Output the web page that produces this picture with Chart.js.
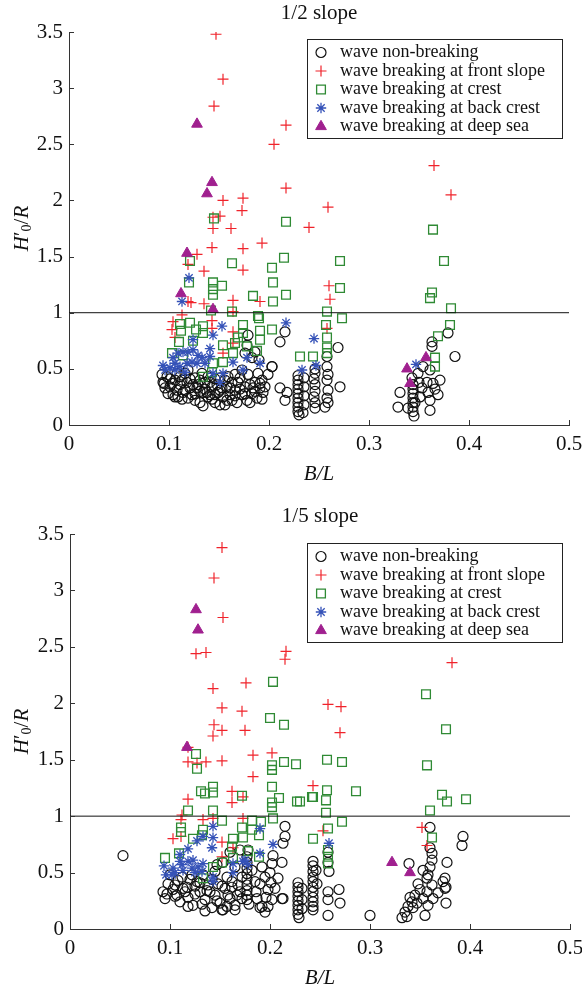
<!DOCTYPE html>
<html>
<head>
<meta charset="utf-8">
<script src="https://cdn.jsdelivr.net/npm/chart.js@4.4.1/dist/chart.umd.min.js"></script>
<style>
  html, body { margin: 0; padding: 0; background: #fff; }
  #wrap { position: relative; width: 582px; height: 994px; }
  canvas { position: absolute; left: 0; }
</style>
</head>
<body>
<div id="wrap">
  <canvas id="c1" width="582" height="497" style="top:0"></canvas>
  <canvas id="c2" width="582" height="497" style="top:497px"></canvas>
</div>
<script>
/* Two panels: wave breaking types vs B/L for 1/2 and 1/5 slopes.
 * Values, [B/L, H'0/R] pairs. */

const X_TICKS = [0, 0.1, 0.2, 0.3, 0.4, 0.5];
const Y_TICKS = [0, 0.5, 1, 1.5, 2, 2.5, 3, 3.5];
const LEGEND_LABELS = [
  "wave non-breaking",
  "wave breaking at front slope",
  "wave breaking at crest",
  "wave breaking at back crest",
  "wave breaking at deep sea",
];
const PANEL_TITLES = ["1/2 slope", "1/5 slope"];
const REF_LINE = [[0, 1], [0.5, 1]];

/* ----------------------------- 1/2 slope ---------------------------------- */
const NB1 = [
  [0.093,0.45],[0.094,0.38],[0.096,0.33],[0.104,0.27],[0.101,0.34],[0.106,0.40],[0.111,0.36],[0.114,0.29],
  [0.118,0.38],[0.121,0.33],[0.123,0.27],[0.126,0.42],[0.129,0.36],[0.131,0.20],[0.134,0.29],[0.136,0.38],
  [0.139,0.25],[0.143,0.34],[0.146,0.20],[0.149,0.29],[0.151,0.18],[0.154,0.25],[0.158,0.34],[0.159,0.43],
  [0.163,0.22],[0.166,0.31],[0.169,0.38],[0.173,0.27],[0.176,0.34],[0.179,0.45],[0.183,0.28],[0.186,0.38],
  [0.189,0.46],[0.191,0.33],[0.193,0.40],[0.179,0.80],[0.203,0.52],[0.108,0.46],[0.116,0.46],[0.133,0.46],
  [0.139,0.43],[0.119,0.49],[0.151,0.42],[0.166,0.45],[0.173,0.49],[0.176,0.64],[0.178,0.71],[0.186,0.65],
  [0.183,0.60],[0.109,0.25],[0.126,0.28],[0.146,0.27],[0.156,0.18],[0.168,0.20],[0.178,0.22],[0.188,0.24],
  [0.138,0.29],[0.119,0.24],[0.099,0.28],[0.194,0.29],[0.190,0.58],[0.095,0.37],[0.106,0.25],[0.134,0.17],
  [0.181,0.20],[0.193,0.23],[0.191,0.37],[0.113,0.40],[0.128,0.33],[0.141,0.38],[0.153,0.33],[0.161,0.27],
  [0.171,0.32],[0.184,0.33],[0.116,0.31],[0.131,0.40],[0.148,0.36],[0.163,0.38],[0.158,0.22],[0.143,0.23],
  [0.124,0.36],[0.101,0.41],[0.111,0.43],
  [0.098,0.43],[0.103,0.37],[0.108,0.31],[0.113,0.23],[0.121,0.41],[0.126,0.22],[0.131,0.30],[0.136,0.32],
  [0.141,0.27],[0.146,0.41],[0.151,0.31],[0.156,0.40],[0.161,0.33],[0.166,0.26],[0.171,0.42],[0.176,0.28],
  [0.181,0.36],[0.186,0.30],[0.196,0.34],[0.199,0.45],
  [0.216,0.83],[0.211,0.74],[0.203,0.52],[0.211,0.33],[0.218,0.29],[0.216,0.22],
  [0.229,0.44],[0.229,0.40],[0.229,0.36],[0.229,0.32],[0.229,0.28],[0.229,0.24],[0.229,0.20],[0.229,0.16],
  [0.229,0.12],[0.230,0.09],[0.235,0.42],[0.235,0.34],[0.235,0.26],[0.235,0.18],[0.234,0.11],
  [0.246,0.50],[0.246,0.46],[0.245,0.41],[0.246,0.36],[0.246,0.30],[0.245,0.25],[0.246,0.20],[0.246,0.15],
  [0.258,0.52],[0.258,0.40],[0.259,0.31],[0.258,0.24],[0.259,0.20],[0.256,0.16],[0.271,0.34],[0.269,0.69],
  [0.258,0.61],[0.259,0.45],
  [0.379,0.82],[0.363,0.74],[0.363,0.70],[0.386,0.61],[0.361,0.49],[0.364,0.37],[0.358,0.38],[0.353,0.33],
  [0.359,0.29],[0.369,0.27],[0.361,0.22],[0.361,0.13],[0.331,0.29],[0.329,0.16],[0.339,0.15],
  [0.344,0.36],[0.344,0.32],[0.344,0.28],[0.344,0.24],[0.344,0.20],[0.344,0.16],[0.344,0.12],[0.345,0.08],
  [0.351,0.25],[0.343,0.42],[0.349,0.46],[0.354,0.52],[0.346,0.20],[0.371,0.40],[0.366,0.32],[0.350,0.38],
];
const FS1 = [
  [0.147,3.48],[0.154,3.08],[0.145,2.84],[0.217,2.67],[0.205,2.50],[0.217,2.11],[0.154,2.00],[0.174,2.02],
  [0.173,1.91],[0.259,1.94],[0.151,1.86],[0.144,1.85],[0.144,1.75],[0.162,1.75],[0.240,1.76],[0.365,2.31],
  [0.382,2.05],[0.143,1.58],[0.128,1.52],[0.174,1.57],[0.193,1.62],[0.119,1.43],[0.135,1.37],[0.174,1.38],
  [0.260,1.24],[0.261,1.12],[0.119,1.10],[0.122,1.09],[0.135,1.08],[0.164,1.11],[0.191,1.10],[0.113,0.98],
  [0.164,1.01],[0.104,0.92],[0.143,0.93],[0.103,0.85],[0.143,0.86],[0.164,0.83],[0.258,0.86],[0.154,0.64],
  [0.164,0.73],[0.106,0.78],
];
const CR1 = [
  [0.145,1.84],[0.217,1.81],[0.364,1.74],[0.375,1.46],[0.271,1.46],[0.271,1.22],[0.363,1.18],[0.361,1.13],
  [0.382,1.04],[0.273,0.95],[0.258,1.01],[0.257,0.89],[0.258,0.78],[0.258,0.69],[0.381,0.89],[0.369,0.79],
  [0.366,0.60],[0.366,0.52],[0.244,0.61],[0.231,0.61],[0.121,1.46],[0.120,1.27],[0.144,1.27],[0.144,1.21],
  [0.153,1.24],[0.144,1.16],[0.163,1.44],[0.215,1.49],[0.203,1.40],[0.204,1.27],[0.217,1.16],[0.204,1.10],
  [0.184,1.15],[0.142,1.02],[0.163,1.01],[0.111,0.90],[0.121,0.91],[0.112,0.84],[0.127,0.85],[0.134,0.88],
  [0.134,0.82],[0.110,0.74],[0.124,0.75],[0.174,0.89],[0.189,0.97],[0.190,0.95],[0.191,0.84],[0.191,0.76],
  [0.174,0.82],[0.169,0.78],[0.166,0.73],[0.154,0.71],[0.178,0.70],[0.188,0.66],[0.103,0.64],[0.114,0.62],
  [0.134,0.43],[0.154,0.56],[0.144,0.55],[0.143,0.47],[0.164,0.64],[0.203,0.85],[0.258,0.64],
];
const BC1 = [
  [0.120,1.31],[0.113,1.10],[0.217,0.91],[0.153,0.88],[0.144,0.80],[0.124,0.76],[0.245,0.77],[0.233,0.49],
  [0.247,0.53],[0.191,0.55],[0.141,0.68],[0.347,0.54],[0.094,0.53],[0.104,0.60],[0.109,0.64],[0.114,0.65],
  [0.119,0.65],[0.124,0.67],[0.129,0.62],[0.106,0.49],[0.111,0.52],[0.118,0.55],[0.123,0.56],[0.128,0.55],
  [0.133,0.60],[0.164,0.56],[0.174,0.49],[0.178,0.60],[0.154,0.46],[0.144,0.46],[0.151,0.38],[0.136,0.55],
  [0.106,0.55],[0.101,0.51],[0.096,0.49],[0.116,0.47],[0.141,0.61],
];
const DS1 = [
  [0.128,2.68],[0.143,2.16],[0.138,2.06],[0.118,1.53],[0.112,1.17],[0.144,1.03],[0.338,0.50],[0.341,0.37],
  [0.357,0.60],
];

/* ----------------------------- 1/5 slope ---------------------------------- */
const NB2 = [
  [0.053,0.65],[0.300,0.12],
  [0.093,0.33],[0.095,0.27],[0.105,0.39],[0.107,0.30],[0.110,0.24],[0.117,0.37],[0.118,0.28],[0.123,0.21],
  [0.127,0.42],[0.130,0.33],[0.135,0.26],[0.138,0.39],[0.142,0.19],[0.145,0.30],[0.150,0.23],[0.152,0.17],
  [0.155,0.36],[0.160,0.27],[0.165,0.21],[0.168,0.39],[0.170,0.33],
  [0.177,0.64],[0.177,0.59],[0.177,0.54],[0.177,0.49],[0.177,0.44],[0.177,0.39],[0.177,0.34],[0.177,0.30],
  [0.177,0.26],[0.179,0.22],
  [0.182,0.52],[0.185,0.42],[0.187,0.27],[0.192,0.55],[0.195,0.46],[0.198,0.35],[0.202,0.26],[0.192,0.20],
  [0.195,0.15],[0.100,0.48],[0.112,0.46],[0.122,0.48],[0.133,0.48],[0.145,0.51],[0.157,0.46],[0.165,0.55],
  [0.147,0.57],[0.153,0.59],[0.170,0.70],[0.160,0.68],[0.178,0.70],
  [0.215,0.91],[0.215,0.82],[0.213,0.76],[0.203,0.65],[0.202,0.58],[0.212,0.59],[0.201,0.41],[0.212,0.27],
  [0.190,0.19],[0.165,0.17],[0.153,0.17],[0.097,0.31],[0.113,0.36],[0.125,0.31],[0.140,0.33],[0.148,0.40],
  [0.162,0.37],[0.172,0.27],[0.118,0.20],[0.135,0.16],[0.105,0.29],[0.130,0.41],[0.158,0.30],[0.200,0.50],
  [0.198,0.20],
  [0.098,0.40],[0.103,0.35],[0.108,0.43],[0.115,0.33],[0.120,0.44],[0.125,0.38],[0.132,0.22],[0.137,0.34],
  [0.142,0.44],[0.147,0.25],[0.152,0.38],[0.157,0.20],[0.162,0.42],[0.167,0.30],[0.172,0.46],[0.186,0.33],
  [0.190,0.40],[0.196,0.28],[0.205,0.36],[0.208,0.45],
  [0.213,0.27],[0.228,0.41],[0.228,0.37],[0.228,0.33],[0.228,0.29],[0.228,0.25],[0.228,0.21],[0.228,0.17],
  [0.228,0.13],[0.229,0.10],[0.232,0.36],[0.232,0.26],[0.232,0.18],
  [0.243,0.60],[0.243,0.56],[0.243,0.51],[0.243,0.46],[0.243,0.42],[0.243,0.37],[0.243,0.33],[0.243,0.28],
  [0.243,0.24],[0.243,0.20],[0.243,0.17],[0.246,0.52],[0.247,0.40],
  [0.258,0.68],[0.258,0.59],[0.259,0.51],[0.258,0.33],[0.258,0.26],[0.269,0.35],[0.270,0.23],[0.258,0.12],
  [0.360,0.90],[0.393,0.82],[0.392,0.74],[0.339,0.58],[0.360,0.72],[0.362,0.67],[0.362,0.61],[0.377,0.59],
  [0.353,0.52],[0.358,0.48],[0.373,0.42],[0.375,0.36],[0.362,0.39],[0.357,0.33],[0.353,0.27],[0.350,0.35],
  [0.345,0.30],[0.342,0.24],[0.338,0.20],[0.335,0.15],[0.332,0.10],[0.337,0.11],[0.343,0.19],[0.347,0.23],
  [0.355,0.12],[0.358,0.21],[0.363,0.27],[0.368,0.32],[0.376,0.23],[0.357,0.45],[0.375,0.45],[0.376,0.37],
  [0.340,0.28],[0.348,0.40],[0.360,0.55],
];
const FS2 = [
  [0.152,3.38],[0.144,3.11],[0.153,2.76],[0.126,2.44],[0.136,2.45],[0.216,2.46],[0.215,2.39],[0.143,2.13],
  [0.176,2.18],[0.152,1.96],[0.172,1.93],[0.258,1.99],[0.271,1.97],[0.144,1.81],[0.152,1.76],[0.175,1.76],
  [0.143,1.71],[0.270,1.74],[0.382,2.36],[0.243,1.27],[0.253,0.87],[0.352,0.90],[0.357,0.74],[0.118,1.61],
  [0.118,1.48],[0.127,1.47],[0.136,1.48],[0.152,1.49],[0.183,1.54],[0.202,1.56],[0.183,1.35],[0.118,1.15],
  [0.162,1.22],[0.162,1.12],[0.173,1.17],[0.112,1.01],[0.111,0.97],[0.133,0.97],[0.143,0.98],[0.173,0.98],
  [0.111,0.82],[0.103,0.80],[0.152,0.77],[0.163,0.72],[0.152,0.64],
];
const CR2 = [
  [0.203,2.19],[0.200,1.87],[0.214,1.81],[0.356,2.08],[0.376,1.77],[0.257,1.50],[0.272,1.48],[0.357,1.45],
  [0.286,1.22],[0.243,1.17],[0.257,1.23],[0.256,1.14],[0.256,1.03],[0.272,0.95],[0.258,0.89],[0.243,0.80],
  [0.258,0.70],[0.258,0.64],[0.258,0.58],[0.372,1.19],[0.377,1.13],[0.396,1.15],[0.360,1.05],[0.362,0.81],
  [0.230,1.13],[0.126,1.55],[0.127,1.42],[0.131,1.22],[0.135,1.20],[0.143,1.26],[0.143,1.21],[0.118,1.05],
  [0.143,1.05],[0.152,0.96],[0.111,0.90],[0.111,0.86],[0.123,0.80],[0.133,0.88],[0.132,0.83],[0.172,0.90],
  [0.182,0.96],[0.182,0.88],[0.191,0.95],[0.189,0.83],[0.173,0.81],[0.163,0.80],[0.162,0.73],[0.178,0.69],
  [0.189,0.64],[0.202,1.45],[0.202,1.41],[0.202,1.26],[0.202,1.12],[0.202,1.08],[0.203,0.98],[0.209,1.16],
  [0.214,1.48],[0.226,1.46],[0.227,1.13],[0.242,1.17],[0.095,0.63],[0.109,0.67],[0.133,0.45],[0.143,0.55],
  [0.152,0.59],[0.163,0.63],[0.172,1.18],
];
const BC2 = [
  [0.094,0.56],[0.096,0.48],[0.103,0.54],[0.110,0.66],[0.118,0.71],[0.123,0.61],[0.127,0.78],[0.133,0.82],
  [0.143,0.81],[0.143,0.91],[0.142,0.72],[0.190,0.89],[0.190,0.67],[0.203,0.75],[0.259,0.76],[0.163,0.58],
  [0.163,0.50],[0.173,0.60],[0.178,0.57],[0.143,0.46],[0.143,0.42],[0.105,0.50],[0.113,0.52],[0.122,0.54],
  [0.125,0.50],[0.133,0.58],[0.132,0.51],[0.118,0.60],[0.110,0.60],[0.102,0.48],[0.175,0.61],[0.112,0.57],
  [0.128,0.55],
];
const DS2 = [
  [0.126,2.83],[0.128,2.65],[0.117,1.61],[0.322,0.59],[0.340,0.50],
];

/* ------------------------------ Estilos ----------------------------------- */
const SERIF = '"Liberation Serif", "Times New Roman", serif';
const STYLES = [
  { pointStyle: "circle",   radius: 5,   color: "#111", fill: "rgba(0,0,0,0)", bw: 1.2 },
  { pointStyle: "cross",    radius: 5.5, color: "#f0232b", fill: "#f0232b",     bw: 1.2 },
  { pointStyle: "rect",     radius: 6.2, color: "#2f8a34", fill: "rgba(0,0,0,0)", bw: 1.3 },
  { pointStyle: "star",     radius: 5.2, color: "#3552b8", fill: "#3552b8",     bw: 1.3 },
  { pointStyle: "triangle", radius: 6.2, color: "#a0208f", fill: "#a0208f",     bw: 1 },
];

const pts = (arr) => arr.map(([x, y]) => ({ x, y }));

function drawMarker(ctx, st, x, y) {
  ctx.strokeStyle = st.color;
  ctx.fillStyle = st.fill;
  ctx.lineWidth = st.bw;
  Chart.helpers.drawPoint(ctx, { pointStyle: st.pointStyle, radius: st.radius, borderWidth: st.bw, rotation: 0 }, x, y);
}

/* Ticks para dentro, título, rótulos dos eixos e legenda com moldura. */
const decor = {
  id: "decor",
  afterDraw(chart, args, o) {
    const { ctx, chartArea: a, scales: { x, y } } = chart;
    ctx.save();
    ctx.strokeStyle = "#333";
    ctx.lineWidth = 1;
    ctx.beginPath();
    x.ticks.forEach((t) => {
      const px = Math.round(x.getPixelForValue(t.value)) + 0.5;
      ctx.moveTo(px, a.bottom); ctx.lineTo(px, a.bottom - 5);
    });
    y.ticks.forEach((t) => {
      const py = Math.round(y.getPixelForValue(t.value)) + 0.5;
      ctx.moveTo(a.left, py); ctx.lineTo(a.left + 5, py);
    });
    ctx.stroke();

    ctx.fillStyle = "#111";
    ctx.textBaseline = "middle";
    ctx.textAlign = "center";
    ctx.font = `21px ${SERIF}`;
    ctx.fillText(o.title, (a.left + a.right) / 2, o.titleY);
    ctx.font = `italic 21px ${SERIF}`;
    ctx.fillText("B/L", (a.left + a.right) / 2, a.bottom + 49);

    // H'0/R na vertical
    const parts = [
      { t: "H", f: `italic 21px ${SERIF}`, dy: 0 },
      { t: "\u2032", f: `21px ${SERIF}`, dy: 0 },
      { t: "0", f: `14px ${SERIF}`, dy: 5 },
      { t: "/", f: `21px ${SERIF}`, dy: 0 },
      { t: "R", f: `italic 21px ${SERIF}`, dy: 0 },
    ];
    let total = 0;
    parts.forEach((p) => { ctx.font = p.f; p.w = ctx.measureText(p.t).width; total += p.w; });
    ctx.translate(22, (a.top + a.bottom) / 2);
    ctx.rotate(-Math.PI / 2);
    ctx.textAlign = "left";
    let cx = -total / 2;
    parts.forEach((p) => { ctx.font = p.f; ctx.fillText(p.t, cx, p.dy); cx += p.w; });
    ctx.setTransform(1, 0, 0, 1, 0, 0);

    // legenda
    const L = o.legend;
    ctx.strokeStyle = "#222";
    ctx.lineWidth = 1;
    ctx.strokeRect(L.x + 0.5, L.y + 0.5, L.w, L.h);
    ctx.font = `18px ${SERIF}`;
    ctx.textAlign = "left";
    LEGEND_LABELS.forEach((lab, i) => {
      const ry = L.y + 13.5 + i * 18.5;
      drawMarker(ctx, STYLES[i], L.x + 14, ry);
      ctx.fillStyle = "#111";
      ctx.fillText(lab, L.x + 33, ry);
    });
    ctx.restore();
  },
};

function makePanel(id, sets, cfg) {
  const datasets = sets.map((arr, i) => ({
    label: LEGEND_LABELS[i],
    data: pts(arr),
    pointStyle: STYLES[i].pointStyle,
    pointRadius: STYLES[i].radius,
    pointHoverRadius: STYLES[i].radius,
    pointBorderWidth: STYLES[i].bw,
    borderColor: STYLES[i].color,
    backgroundColor: STYLES[i].fill,
    order: 5 - i,
  }));
  datasets.push({
    type: "line", data: pts(REF_LINE), borderColor: "#111", borderWidth: 1,
    pointRadius: 0, fill: false, order: 0,
  });
  const tickFont = { family: SERIF, size: 21 };
  const fmt = (v) => String(Math.round(v * 10) / 10);
  return new Chart(document.getElementById(id), {
    type: "scatter",
    data: { datasets },
    options: {
      responsive: false,
      animation: false,
      devicePixelRatio: 1,
      layout: { padding: { left: 0, right: cfg.padRight, top: cfg.padTop, bottom: 0 } },
      plugins: { legend: { display: false }, tooltip: { enabled: false }, decor: cfg.decor },
      scales: {
        x: {
          type: "linear", min: 0, max: 0.5,
          afterBuildTicks: (s) => { s.ticks = X_TICKS.map((v) => ({ value: v })); },
          ticks: { font: tickFont, color: "#111", padding: 7, maxRotation: 0, callback: fmt },
          grid: { display: false, drawTicks: false },
          border: { display: true, color: "#333", width: 1 },
          afterFit: (s) => { s.height = cfg.xHeight; s.paddingLeft = 0; s.paddingRight = 0; },
        },
        y: {
          type: "linear", min: 0, max: 3.5,
          afterBuildTicks: (s) => { s.ticks = Y_TICKS.map((v) => ({ value: v })); },
          ticks: { font: tickFont, color: "#111", padding: 6, callback: fmt },
          grid: { display: false, drawTicks: false },
          border: { display: true, color: "#333", width: 1 },
          afterFit: (s) => { s.width = cfg.yWidth; s.paddingTop = 0; s.paddingBottom = 0; },
        },
      },
    },
    plugins: [decor],
  });
}

makePanel("c1", [NB1, FS1, CR1, BC1, DS1], {
  padTop: 32, padRight: 13, xHeight: 72, yWidth: 69,
  decor: { title: PANEL_TITLES[0], titleY: 13, legend: { x: 307, y: 39, w: 255, h: 99 } },
});
makePanel("c2", [NB2, FS2, CR2, BC2, DS2], {
  padTop: 37, padRight: 12, xHeight: 65, yWidth: 70,
  decor: { title: PANEL_TITLES[1], titleY: 19, legend: { x: 307, y: 46, w: 255, h: 99 } },
});
</script>
</body>
</html>
